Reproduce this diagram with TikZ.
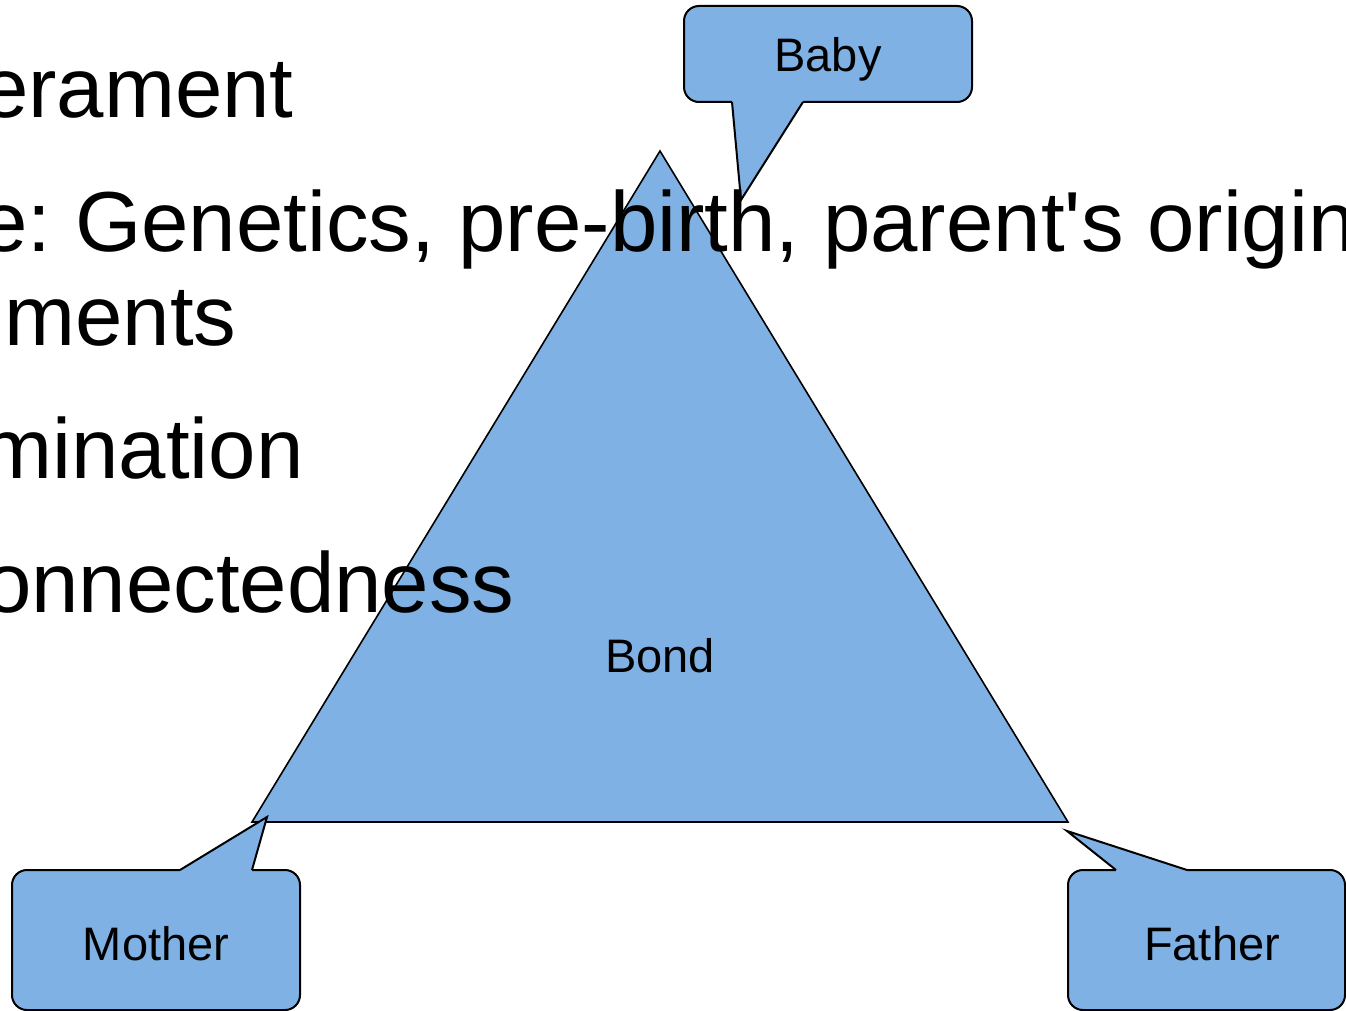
\documentclass[tikz,border=0pt]{standalone}
\usepackage{fontspec}
\setmainfont{Liberation Sans}[Ligatures=TeXOff]
\definecolor{cfill}{RGB}{128,177,228}
\tikzset{
  bigtext/.style={inner sep=0pt, font=\fontsize{42.6}{50}\selectfont\frenchspacing},
  smalltext/.style={inner sep=0pt, anchor=base, font=\fontsize{23.5}{28}\selectfont},
  calloutbox/.style={fill=cfill, draw=black, line width=1pt, rounded corners=7.5pt},
  tailfill/.style={fill=cfill},
  tailline/.style={draw=black, line width=1pt, line join=miter},
  tri/.style={fill=cfill, draw=black, line width=0.8pt, line join=miter}
}
\begin{document}
\begin{tikzpicture}[x=0.5pt,y=-0.5pt]
\useasboundingbox (0,0) rectangle (1346,1011);
\clip (0,0) rectangle (1346,1011);
\fill[white] (0,0) rectangle (1346,1011);

% triangle
\draw[tri] (660,151) -- (252,822) -- (1068,822) -- cycle;

% Baby callout
\path[calloutbox] (684,6) rectangle (972,102);
\fill[tailfill] (732,99) -- (732,102) -- (741,200) -- (803,102) -- (803,99) -- cycle;
\draw[tailline] (732,102) -- (741,200) -- (803,102);

% Mother callout
\path[calloutbox] (12,870) rectangle (300,1010);
\fill[tailfill] (180,873) -- (180,870) -- (267,817) -- (252,870) -- (252,873) -- cycle;
\draw[tailline] (180,870) -- (267,817) -- (252,870);

% Father callout
\path[calloutbox] (1068,870) rectangle (1345,1010);
\fill[tailfill] (1116,873) -- (1116,870) -- (1067,831) -- (1187,870) -- (1187,873) -- cycle;
\draw[tailline] (1116,870) -- (1067,831) -- (1187,870);

% labels
\node[smalltext] (baby) at (828,72) {Baby};
\node[smalltext] (bond) at (660,672) {Bond};
\node[smalltext] (mother) at (156,960) {Mother};
\node[smalltext] (father) at (1212,960) {Father};

% background text lines
\node[bigtext, anchor=base east] (l1) at (294,118) {erament};
\node[bigtext, anchor=base west] (l2) at (-20,252) {e: Genetics, pre-birth, parent's origin};
\node[bigtext, anchor=base west] (l3) at (4,345) {ments};
\node[bigtext, anchor=base east] (l4) at (304,478) {mination};
\node[bigtext, anchor=base east] (l5) at (515,612) {onnectedness};
\end{tikzpicture}
\end{document}
